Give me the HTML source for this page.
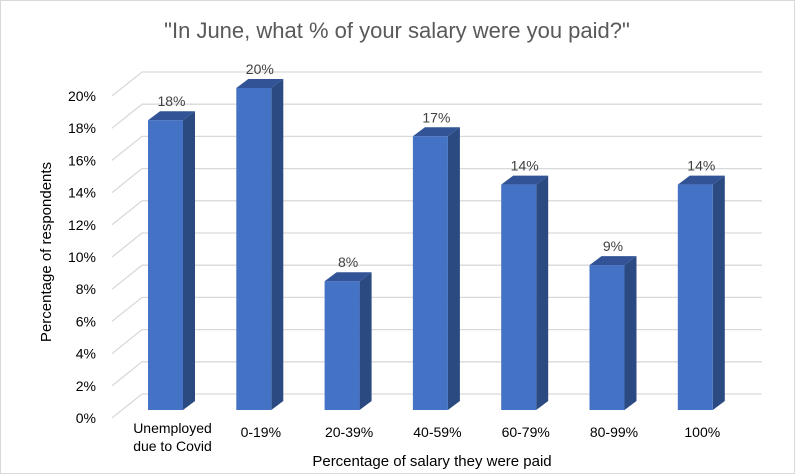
<!DOCTYPE html>
<html><head><meta charset="utf-8"><style>
body{margin:0;background:#fff;}
svg{display:block;font-family:"Liberation Sans",sans-serif;}
</style></head><body>
<svg id="chart" width="795" height="474" viewBox="0 0 795 474">
<rect x="0.5" y="0.5" width="794" height="473" fill="#fff" stroke="#d9d9d9"/>
<text x="397" y="38" text-anchor="middle" font-size="22" fill="#595959">"In June, what % of your salary were you paid?"</text>
<g id="grid"></g>
<g id="bars"></g>
<g id="labels"></g>
<text transform="translate(51,252) rotate(-90)" text-anchor="middle" font-size="15" fill="#000">Percentage of respondents</text>
<text x="432" y="466" text-anchor="middle" font-size="15" fill="#000">Percentage of salary they were paid</text>
</svg>
<script>
const categories=[["Unemployed","due to Covid"],["0-19%"],["20-39%"],["40-59%"],["60-79%"],["80-99%"],["100%"]];
const values=[18,20,8,17,14,9,14];
const ticks=[0,2,4,6,8,10,12,14,16,18,20];
const NS="http://www.w3.org/2000/svg";
function mk(t,a,p){const e=document.createElementNS(NS,t);for(const k in a)e.setAttribute(k,a[k]);p.appendChild(e);return e;}
const yFront=v=>410-v*16.1;
const yBack=v=>394-v*16.1;
const xBar=i=>148+i*88.3;
const grid=document.getElementById('grid'),bars=document.getElementById('bars'),labels=document.getElementById('labels');
ticks.forEach(t=>{
  const l=mk('polyline',{points:`112,${yBack(t)+24} 142,${yBack(t)} 762,${yBack(t)}`,fill:'none',stroke:'#d9d9d9','stroke-width':1.3},grid);
  
  
  const tx=mk('text',{x:96,y:yBack(t)+29,'text-anchor':'end','font-size':14,fill:'#000'},grid);
  tx.textContent=t+'%';
  
  
});
values.forEach((v,i)=>{
  const x=xBar(i),w=35,dx=12,dy=9,yb=410,yt=yFront(v);
  const g=mk('g',{},bars);
  
  
  mk('polygon',{points:`${x+w},${yt} ${x+w+dx},${yt-dy} ${x+w+dx},${yb-dy} ${x+w},${yb}`,fill:'#2b4a82'},g);
  mk('polygon',{points:`${x},${yt} ${x+dx},${yt-dy} ${x+w+dx},${yt-dy} ${x+w},${yt}`,fill:'#325496'},g);
  mk('rect',{x:x,y:yt,width:w,height:yb-yt,fill:'#4472c4'},g);
  const lb=mk('text',{x:x+w/2+6,y:yt-14,'text-anchor':'middle','font-size':14,fill:'#404040'},labels);
  lb.textContent=v+'%';
  
  
  const c=mk('text',{x:x+w/2+7,y:categories[i].length>1?433:437,'text-anchor':'middle','font-size':14,fill:'#000'},labels);
  
  
  categories[i].forEach((s,j)=>{const ts=mk('tspan',{x:x+w/2+7,dy:j?18:0},c);ts.textContent=s;});
});
</script>
</body></html>
